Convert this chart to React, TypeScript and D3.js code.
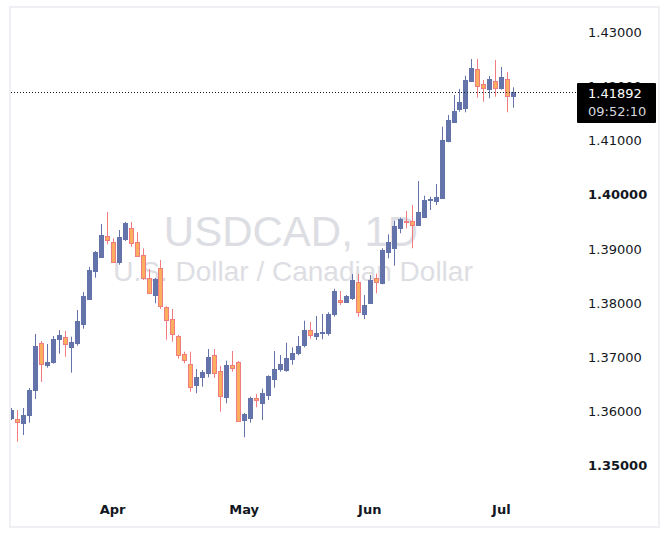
import React from 'react';
import * as d3 from 'd3';

// daily USDCAD candles
const opens = [1.35883, 1.35864, 1.35796, 1.35944, 1.36399, 1.37261, 1.36866, 1.36916, 1.37346, 1.37372,
  1.37187, 1.37267, 1.37623, 1.38078, 1.38601, 1.38848, 1.39235, 1.39125, 1.38756, 1.39191,
  1.39383, 1.39125, 1.38885, 1.38461, 1.38158, 1.38645, 1.37925, 1.37709, 1.37396, 1.37058,
  1.36874, 1.36497, 1.36645, 1.36708, 1.37040, 1.36750, 1.36265, 1.36855, 1.36910, 1.35851,
  1.35888, 1.36246, 1.36165, 1.36313, 1.36608, 1.36793, 1.36769, 1.36977, 1.37088, 1.37235,
  1.37501, 1.37390, 1.37451, 1.37446, 1.37807, 1.38060, 1.38023, 1.38102, 1.38387, 1.37802,
  1.38010, 1.38461, 1.38368, 1.38951, 1.39025, 1.39394, 1.39518, 1.39512, 1.39444, 1.39597,
  1.39905, 1.39892, 1.39947, 1.40994, 1.41339, 1.41584, 1.41608, 1.42106, 1.42316, 1.42040,
  1.41947, 1.42095, 1.41977, 1.42137, 1.41829];
const highs = [1.36067, 1.36031, 1.36067, 1.36436, 1.37433, 1.37304, 1.37248, 1.37396, 1.37506, 1.37488,
  1.37383, 1.37875, 1.38208, 1.38674, 1.38964, 1.39462, 1.39684, 1.39198, 1.39351, 1.39499,
  1.39499, 1.39309, 1.39014, 1.38632, 1.38466, 1.38798, 1.37944, 1.37894, 1.37414, 1.37106,
  1.37106, 1.36787, 1.36769, 1.37156, 1.37156, 1.36842, 1.36940, 1.37119, 1.36934, 1.35975,
  1.36276, 1.36326, 1.36424, 1.36671, 1.37119, 1.37045, 1.37272, 1.37187, 1.37396, 1.37678,
  1.37654, 1.37765, 1.37802, 1.37833, 1.38268, 1.38226, 1.38152, 1.38540, 1.38540, 1.38152,
  1.38521, 1.38545, 1.39014, 1.39272, 1.39518, 1.39578, 1.39702, 1.39813, 1.40256, 1.39984,
  1.39966, 1.40200, 1.41257, 1.41473, 1.41842, 1.41953, 1.42198, 1.42506, 1.42506, 1.42119,
  1.42193, 1.42488, 1.42359, 1.42267, 1.41984];
const lows = [1.35846, 1.35446, 1.35569, 1.35796, 1.36233, 1.36547, 1.36811, 1.36885, 1.37069, 1.37014,
  1.36719, 1.37217, 1.37530, 1.38060, 1.38471, 1.38835, 1.39088, 1.38748, 1.38711, 1.39148,
  1.39043, 1.38853, 1.38429, 1.38176, 1.37999, 1.37894, 1.37328, 1.37291, 1.36977, 1.36892,
  1.36368, 1.36339, 1.36460, 1.36634, 1.36626, 1.35999, 1.36154, 1.36737, 1.35818, 1.35527,
  1.35796, 1.36080, 1.35846, 1.36215, 1.36442, 1.36737, 1.36737, 1.36866, 1.37040, 1.37187,
  1.37346, 1.37322, 1.37335, 1.37402, 1.37752, 1.37968, 1.38005, 1.38060, 1.37752, 1.37709,
  1.38010, 1.38184, 1.38350, 1.38829, 1.38693, 1.39291, 1.39383, 1.39014, 1.39435, 1.39591,
  1.39720, 1.39813, 1.39923, 1.40970, 1.41326, 1.41534, 1.41523, 1.42088, 1.41792, 1.41719,
  1.41781, 1.41811, 1.41940, 1.41523, 1.41608];
const closes = [1.36031, 1.35804, 1.35938, 1.36399, 1.37211, 1.36874, 1.36916, 1.37340, 1.37414, 1.37243,
  1.37280, 1.37667, 1.38134, 1.38613, 1.38946, 1.39259, 1.39161, 1.38761, 1.39217, 1.39481,
  1.39106, 1.38866, 1.38461, 1.38184, 1.38448, 1.37944, 1.37685, 1.37427, 1.37040, 1.36947,
  1.36449, 1.36639, 1.36732, 1.37008, 1.36708, 1.36289, 1.36855, 1.36800, 1.35822, 1.35957,
  1.36252, 1.36209, 1.36344, 1.36658, 1.36787, 1.36879, 1.36990, 1.37082, 1.37211, 1.37506,
  1.37409, 1.37451, 1.37470, 1.37802, 1.38226, 1.38029, 1.38134, 1.38429, 1.37844, 1.37962,
  1.38429, 1.38398, 1.38982, 1.39125, 1.39425, 1.39560, 1.39505, 1.39449, 1.39678, 1.39905,
  1.39923, 1.39960, 1.41012, 1.41381, 1.41547, 1.41713, 1.42119, 1.42335, 1.42014, 1.41966,
  1.42132, 1.41966, 1.42174, 1.41818, 1.41892];

const monthLabels = ['Apr', 'May', 'Jun', 'Jul'];
const monthIndex = [17, 39, 60, 82];
const priceTicks = [1.35, 1.36, 1.37, 1.38, 1.39, 1.40, 1.41, 1.42, 1.43];
const boldTicks = [1.35, 1.40];
const lastPrice = 1.41892;
const countdown = '09:52:10';

const W = 670;
const H = 542;
const UP = '#6474AA';
const DOWN_FILL = '#FBAE5E';
const DOWN_LINE = '#F27B80';
const FONT = '"DejaVu Sans", sans-serif';

export default function App() {
  const x = d3.scaleLinear().domain([0, opens.length - 1]).range([11, 513.3]);
  const y = d3.scaleLinear().domain([1.35, 1.43]).range([465.85, 32.25]);

  const lastY = Math.round(y(lastPrice)) + 0.5;

  return (
    <svg width={W} height={H} style={{ position: 'absolute', left: 0, top: 0, background: '#fff' }}>
      <defs>
        <clipPath id="plot">
          <rect x={11} y={8} width={565} height={518} />
        </clipPath>
      </defs>

      {/* watermark */}
      <g fill="#DDDEE3" fontFamily='"Liberation Sans", Arial, sans-serif' textAnchor="middle">
        <text x={291} y={246} fontSize={42}>USDCAD, 1D</text>
        <text x={293} y={281} fontSize={28}>U.S. Dollar / Canadian Dollar</text>
      </g>

      <g clipPath="url(#plot)">
        {opens.map((o, i) => {
          const c = closes[i];
          const up = c >= o;
          const cx = Math.round(x(i));
          const top = Math.round(y(Math.max(o, c)));
          const bot = Math.round(y(Math.min(o, c)));
          const line = up ? UP : DOWN_LINE;
          return (
            <g key={i}>
              <line x1={cx + 0.5} x2={cx + 0.5} y1={y(highs[i])} y2={y(lows[i])} stroke={line} strokeWidth={1} />
              <rect x={cx - 1.5} y={top + 0.5} width={4} height={Math.max(bot - top, 1)}
                fill={up ? UP : DOWN_FILL} stroke={line} strokeWidth={1} />
            </g>
          );
        })}
      </g>

      {/* last price line */}
      <line x1={11} x2={577} y1={lastY} y2={lastY} stroke="#131722" strokeWidth={1} strokeDasharray="1,2" />

      {/* price axis */}
      <g fontFamily={FONT} fontSize={13} fill="#131722">
        {priceTicks.map(t => (
          <text key={t} x={588} y={y(t)} dominantBaseline="central"
            fontWeight={boldTicks.includes(t) ? 'bold' : 'normal'}>
            {t.toFixed(5)}
          </text>
        ))}
      </g>

      <rect x={577} y={83} width={79} height={40} fill="#000" rx={1} />
      <text x={588} y={93} dominantBaseline="central" fontFamily={FONT} fontSize={13} fill="#fff">
        {lastPrice.toFixed(5)}
      </text>
      <text x={588} y={111} dominantBaseline="central" fontFamily={FONT} fontSize={13} fill="#D6D8DE">
        {countdown}
      </text>

      {/* time axis */}
      <g fontFamily={FONT} fontSize={13} fontWeight="bold" fill="#131722" textAnchor="middle">
        {monthLabels.map((m, i) => (
          <text key={m} x={x(monthIndex[i])} y={509} dominantBaseline="central">{m}</text>
        ))}
      </g>

      {/* widget frame */}
      <rect x={10} y={7} width={649} height={520} fill="none" stroke="#EFF0F3" strokeWidth={2} />
    </svg>
  );
}
